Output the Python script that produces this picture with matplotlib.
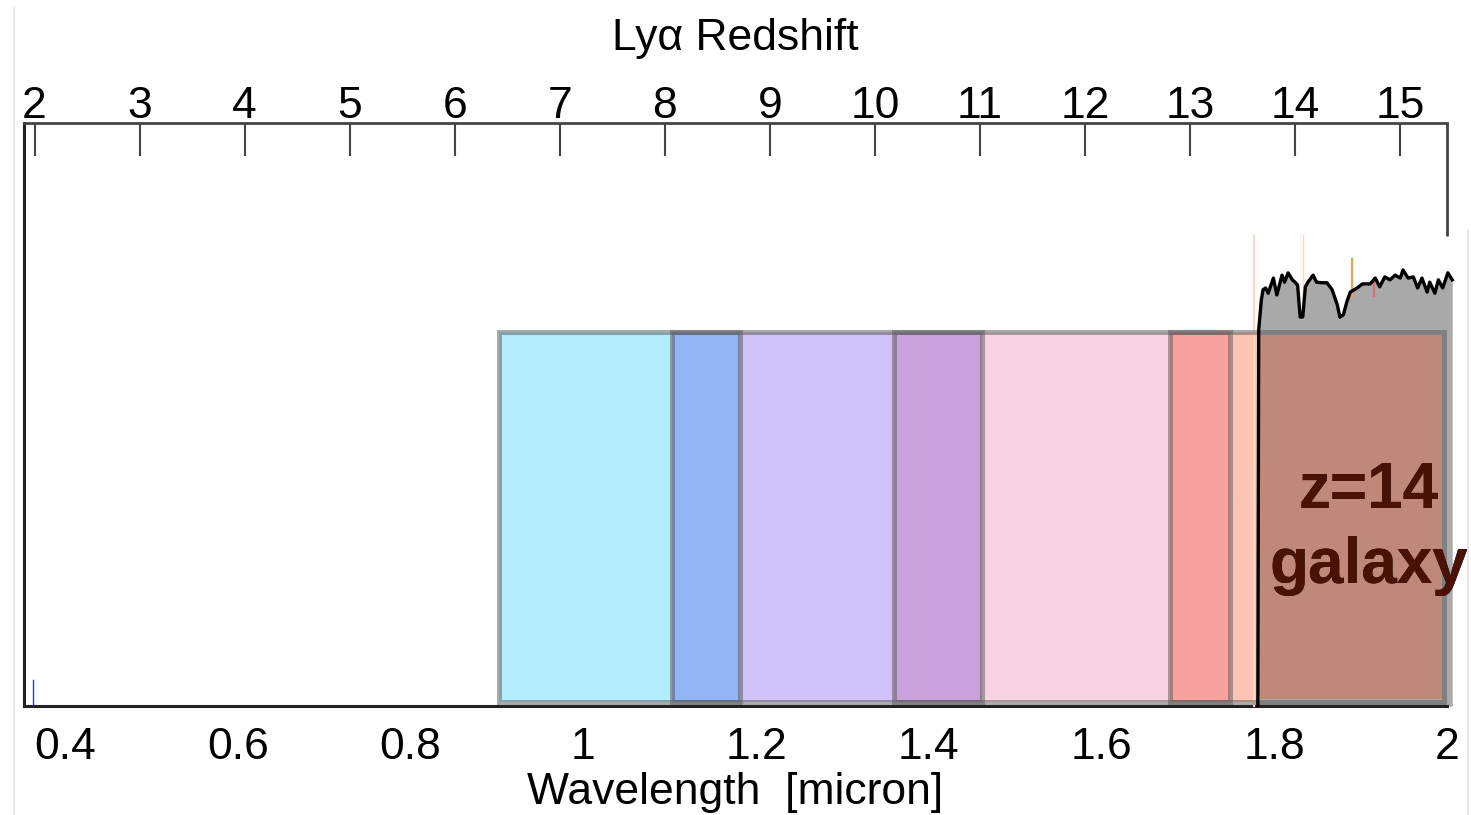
import matplotlib
matplotlib.use("Agg")
import matplotlib.pyplot as plt
from matplotlib.patches import Rectangle
from matplotlib.lines import Line2D
import numpy as np

plt.rcParams["font.family"] = ["Liberation Sans", "DejaVu Sans"]

LYA = 0.1216  # micron

# filter bandpasses [micron] and their colours
filter_lo = [0.903, 1.103, 1.360, 1.679]
filter_hi = [1.181, 1.462, 1.749, 1.997]
filter_colors = ["#b3ecfc", "#cfc2f8", "#f8d4e2", "#fec3b3"]
filter_top = 0.6415
filter_bottom = 0.007

# z=14 galaxy spectrum (arbitrary flux units)
spec_wave = [1.781, 1.782, 1.785, 1.787, 1.790, 1.793, 1.799, 1.803, 1.809, 1.812,
             1.816, 1.821, 1.824, 1.827, 1.830, 1.833, 1.836, 1.839, 1.845, 1.849,
             1.855, 1.861, 1.867, 1.873, 1.876, 1.880, 1.884, 1.888, 1.896, 1.902,
             1.911, 1.917, 1.922, 1.928, 1.934, 1.940, 1.946, 1.949, 1.955, 1.961,
             1.966, 1.971, 1.977, 1.980, 1.986, 1.990, 1.995, 2.001, 2.006]
spec_flux = [0.000, 0.645, 0.696, 0.714, 0.717, 0.708, 0.734, 0.705, 0.739, 0.727,
             0.743, 0.731, 0.727, 0.722, 0.667, 0.667, 0.719, 0.727, 0.739, 0.727,
             0.726, 0.726, 0.714, 0.688, 0.667, 0.671, 0.693, 0.710, 0.717, 0.724,
             0.724, 0.734, 0.719, 0.736, 0.731, 0.739, 0.734, 0.748, 0.734, 0.736,
             0.717, 0.734, 0.710, 0.727, 0.708, 0.731, 0.717, 0.743, 0.731]

redshift_ticks = list(range(2, 16))
wave_ticks = [0.4, 0.6, 0.8, 1.0, 1.2, 1.4, 1.6, 1.8, 2.0]
wave_labels = ["0.4", "0.6", "0.8", "1", "1.2", "1.4", "1.6", "1.8", "2"]

fig = plt.figure(figsize=(14.71, 8.15), dpi=100)
ax = fig.add_axes([24 / 1471, 1 - 706 / 815, 1423 / 1471, 583 / 815])
ax.set_xlim(0.3525, 2.0)
ax.set_ylim(0, 1)
ax.set_yticks([])

# filter fills: overlapping bands multiply their colours
edges = sorted(set(filter_lo + filter_hi))
rgb = [np.array(matplotlib.colors.to_rgb(c)) for c in filter_colors]
for a, b in zip(edges[:-1], edges[1:]):
    mid = 0.5 * (a + b)
    col = np.ones(3)
    hit = False
    for lo, hi, c in zip(filter_lo, filter_hi, rgb):
        if lo <= mid <= hi:
            col = col * c
            hit = True
    if hit:
        ax.add_patch(Rectangle((a, filter_bottom), b - a, filter_top - filter_bottom,
                               facecolor=col, edgecolor="none", zorder=2))

# galaxy spectrum, grey fill
ax.fill_between(spec_wave, 0, spec_flux, color="#a9a9a9", lw=0, zorder=2.5, clip_on=False)
overlay_x0 = spec_wave[0]
overlay_x1 = filter_hi[3] - 0.003
overlay = Rectangle((overlay_x0, 0.012), overlay_x1 - overlay_x0, filter_top - 0.017,
                    facecolor="#c08878", edgecolor="none", zorder=3)
ax.add_patch(overlay)

for lo, hi in zip(filter_lo, filter_hi):
    ax.add_patch(Rectangle((lo, filter_bottom), hi - lo, filter_top - filter_bottom,
                           facecolor="none", edgecolor="#585858", alpha=0.5, lw=3.6,
                           joinstyle="miter", zorder=4))

# faint lines from the pasted spectrum image
ax.plot([1.7765, 1.7765], [0, 0.806], color="#fdd8c8", lw=1.5, zorder=3.2, clip_on=False)
ax.plot([1.832, 1.832], [0.667, 0.806], color="#fdd8c8", lw=2.5, zorder=3.2)
ax.plot([1.832, 1.832], [0.667, 0.806], color="white", lw=1.2, zorder=3.3)
ax.plot([1.890, 1.890], [0.703, 0.767], color="#f5a040", lw=1.5, zorder=6)
ax.plot([1.9155, 1.9155], [0.703, 0.734], color="#d87070", lw=1.5, zorder=6)
ax.plot(spec_wave, spec_flux, color="black", lw=2.4, zorder=6, clip_on=False)
ax.plot([0.363, 0.363], [0, 0.045], color="#3030ff", lw=1, zorder=6)

# label
clip = Rectangle((overlay_x0, 0.012), overlay_x1 - overlay_x0, filter_top - 0.017,
                 transform=ax.transData)
for txt, yb in [("z=14", 0.3396), ("galaxy", 0.211)]:
    ax.text(1.9097, yb, txt, ha="center", va="baseline", fontsize=46,
            fontweight="bold", color="black", zorder=7)
    t = ax.text(1.9097, yb, txt, ha="center", va="baseline", fontsize=46,
                fontweight="bold", color="#4a1204", zorder=7.1)
    t.set_clip_path(clip)

# spines
for s in ["left", "bottom"]:
    ax.spines[s].set_linewidth(2.2)
    ax.spines[s].set_color("#222222")
ax.spines["top"].set_linewidth(2.0)
ax.spines["top"].set_color("#444444")
ax.spines["right"].set_visible(False)
ax.plot([2.0, 2.0], [1.0, 0.806], color="#444444", lw=2.0, zorder=6, clip_on=False,
        solid_capstyle="butt")

ax.set_xticks(wave_ticks)
ax.set_xticklabels(wave_labels)
ax.tick_params(axis="x", direction="in", length=0, pad=15, labelsize=32)
ax.set_xlabel("Wavelength  [micron]", fontsize=32, labelpad=3)

top = ax.twiny()
top.set_xlim(ax.get_xlim())
top.set_xticks([LYA * (1 + z) for z in redshift_ticks])
top.set_xticklabels([str(z) for z in redshift_ticks])
top.tick_params(axis="x", direction="in", length=24, width=1.5, color="#444444",
                pad=-3, labelsize=32)
for s in top.spines.values():
    s.set_visible(False)
top.set_xlabel("Ly\u03b1 Redshift", fontsize=32, labelpad=26)

# faint border lines of the composite
fig.add_artist(Line2D([14 / 1471, 14 / 1471], [0, 1 - 8 / 815], color="#e6e6e6", lw=1.2))
fig.add_artist(Line2D([1468 / 1471, 1468 / 1471], [0, 1 - 230 / 815], color="#e6e6e6", lw=1.2))

fig.savefig("out.png", dpi=100)
